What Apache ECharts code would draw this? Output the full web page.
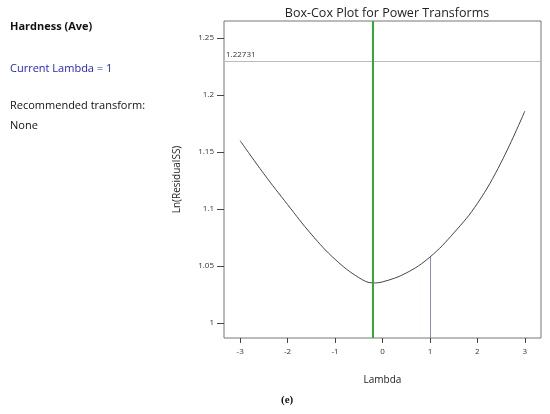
<!DOCTYPE html>
<html><head><meta charset="utf-8">
<script src="https://cdn.jsdelivr.net/npm/echarts@6/dist/echarts.min.js"></script>
<style>body{margin:0}#main{width:550px;height:414px}</style>
</head><body><div id="main"></div>
<script>
var lambdas = [-3, -2.5, -2, -1.5, -1, -0.5, -0.2, 0, 0.5, 1, 1.5, 2, 2.5, 3];
var lnSS = [1.160, 1.131, 1.104, 1.078, 1.056, 1.0400, 1.0353, 1.0362, 1.0440, 1.058, 1.079, 1.105, 1.141, 1.186];
var bestLambda = -0.206;
var currentLambda = 1;
var currentSS = 1.058;
var limitSS = 1.22731;

var font = '"Open Sans", "Noto Sans", sans-serif';
var myChart = echarts.init(document.getElementById('main'));
var option = {
    animation: false,
    textStyle: {fontFamily: font},
    title: [
        {text: 'Box-Cox Plot for Power Transforms', left: 382, top: 2, textAlign: 'center',
         textStyle: {fontSize: 12.5, fontWeight: 'normal', color: '#222', fontFamily: font}}
    ],
    graphic: [
        {type: 'text', left: 10, top: 21, style: {text: 'Hardness (Ave)', font: 'bold 11px ' + font, fill: '#111'}},
        {type: 'text', left: 10, top: 63, style: {text: 'Current Lambda = 1', font: '11px ' + font, fill: '#2222cc'}},
        {type: 'text', left: 10, top: 100, style: {text: 'Recommended transform:', font: '11px ' + font, fill: '#111'}},
        {type: 'text', left: 10, top: 120, style: {text: 'None', font: '11px ' + font, fill: '#111'}},
        {type: 'text', left: 281, top: 395, style: {text: '(e)', font: 'bold 11px "Liberation Serif", serif', fill: '#111'}}
    ],
    grid: {left: 224, right: 9, top: 21, bottom: 76, show: true, borderColor: '#777', borderWidth: 1},
    xAxis: {
        type: 'value', min: -3.34, max: 3.34, interval: 1,
        name: 'Lambda', nameLocation: 'middle', nameGap: 37,
        nameTextStyle: {fontSize: 10, color: '#222'},
        axisLine: {show: false, onZero: false},
        axisTick: {show: true, inside: false, customValues: [-3, -2, -1, 0, 1, 2, 3], length: 5, lineStyle: {color: '#444'}},
        axisLabel: {customValues: [-3, -2, -1, 0, 1, 2, 3], fontSize: 8, color: '#333', margin: 10},
        splitLine: {show: false}
    },
    yAxis: {
        type: 'value', min: 0.987, max: 1.265,
        name: 'Ln(ResidualSS)', nameLocation: 'middle', nameGap: 42,
        nameTextStyle: {fontSize: 10, color: '#222'},
        axisLine: {show: false, onZero: false},
        axisTick: {show: true, inside: false, customValues: [1, 1.05, 1.1, 1.15, 1.2, 1.25], length: 7, lineStyle: {color: '#444'}},
        axisLabel: {customValues: [1, 1.05, 1.1, 1.15, 1.2, 1.25], fontSize: 8, color: '#333', margin: 10},
        splitLine: {show: false}
    },
    series: [
        {
            type: 'line', smooth: 0.4, symbol: 'none',
            data: lambdas.map(function (l, i) { return [l, lnSS[i]]; }),
            lineStyle: {color: '#444', width: 1},
            markLine: {
                symbol: 'none', silent: true,
                data: [
                    {yAxis: limitSS, lineStyle: {color: '#bbb', width: 1, type: 'solid'},
                     label: {show: true, position: 'insideStartTop', formatter: String(limitSS), fontSize: 8, color: '#333', distance: [2, 2]}},
                    {xAxis: bestLambda, lineStyle: {color: '#33aa33', width: 2, type: 'solid'}, label: {show: false}},
                    [{coord: [currentLambda, 0.987], lineStyle: {color: '#8888dd', width: 1, type: 'solid'}, label: {show: false}},
                     {coord: [currentLambda, currentSS]}]
                ]
            }
        }
    ]
};
myChart.setOption(option);
</script></body></html>
